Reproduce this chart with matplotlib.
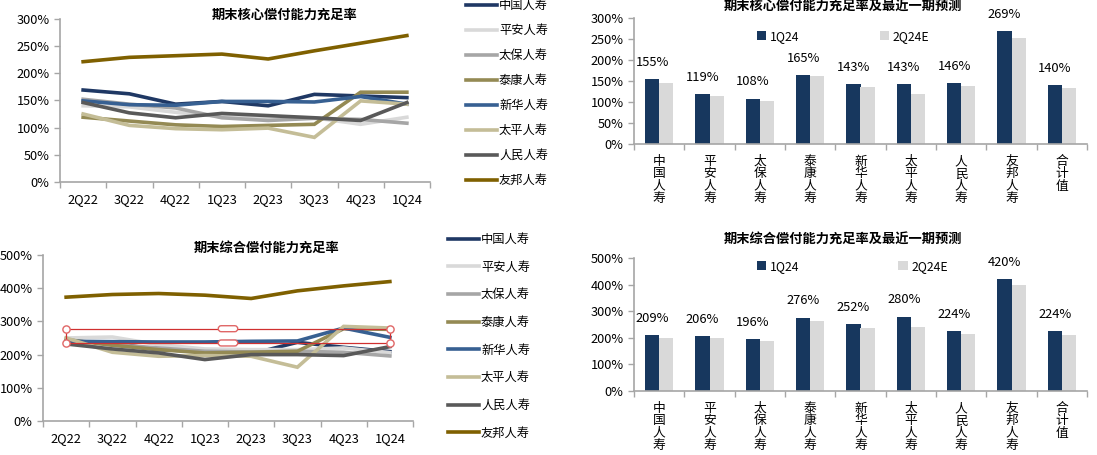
import numpy as np
import matplotlib
matplotlib.use('Agg')
import matplotlib.pyplot as plt
from matplotlib.patches import Rectangle, FancyBboxPatch

plt.rcParams['font.family'] = ['Noto Sans CJK SC', 'DejaVu Sans']
plt.rcParams['font.size'] = 9

quarters = ['2Q22', '3Q22', '4Q22', '1Q23', '2Q23', '3Q23', '4Q23', '1Q24']
companies = ['中国人寿', '平安人寿', '太保人寿', '泰康人寿', '新华人寿', '太平人寿', '人民人寿', '友邦人寿']
line_colors = ['#1F3864', '#D9D9D9', '#A6A6A6', '#948A54', '#376092', '#C4BD97', '#595959', '#7F6000']

# core solvency ratio by quarter (%)
core = {
    '中国人寿': [169, 162, 143, 148, 140, 161, 158, 155],
    '平安人寿': [140, 138, 128, 120, 117, 118, 106, 119],
    '太保人寿': [152, 143, 136, 118, 113, 117, 115, 108],
    '泰康人寿': [119, 112, 105, 102, 104, 106, 165, 165],
    '新华人寿': [149, 142, 141, 148, 148, 147, 157, 143],
    '太平人寿': [125, 104, 98, 96, 99, 82, 149, 143],
    '人民人寿': [146, 127, 118, 126, 122, 118, 113, 146],
    '友邦人寿': [221, 229, 232, 235, 226, 241, 255, 269],
}

# comprehensive solvency ratio by quarter (%)
comp = {
    '中国人寿': [240, 234, 215, 210, 202, 237, 222, 209],
    '平安人寿': [250, 253, 230, 217, 215, 215, 220, 206],
    '太保人寿': [245, 230, 220, 210, 208, 210, 207, 196],
    '泰康人寿': [245, 228, 215, 205, 207, 210, 278, 276],
    '新华人寿': [240, 239, 238, 238, 240, 241, 280, 252],
    '太平人寿': [250, 207, 195, 197, 195, 162, 285, 280],
    '人民人寿': [232, 217, 205, 185, 200, 200, 197, 224],
    '友邦人寿': [373, 381, 384, 379, 369, 392, 407, 420],
}

bar_cats = ['中国人寿', '平安人寿', '太保人寿', '泰康人寿', '新华人寿', '太平人寿', '人民人寿', '友邦人寿', '合计值']
core_1q24 = [155, 119, 108, 165, 143, 143, 146, 269, 140]
core_2q24e = [145, 114, 103, 162, 136, 120, 138, 253, 133]
comp_1q24 = [209, 206, 196, 276, 252, 280, 224, 420, 224]
comp_2q24e = [199, 199, 187, 265, 235, 240, 214, 400, 211]

W, H = 1097, 455
fig = plt.figure(figsize=(W / 100, H / 100), dpi=100)


def box(l, t, r, b):
    return [l / W, 1 - b / H, (r - l) / W, (b - t) / H]


def style_axes(ax, n, ymax, step):
    for s in ['top', 'right']:
        ax.spines[s].set_visible(False)
    for s in ['left', 'bottom']:
        ax.spines[s].set_color('#A6A6A6')
        ax.spines[s].set_linewidth(1.2)
    ax.set_xlim(-0.5, n - 0.5)
    ax.set_ylim(0, ymax)
    ax.set_yticks(np.arange(0, ymax + 1, step))
    ax.set_yticklabels(['%d%%' % v for v in np.arange(0, ymax + 1, step)])
    ax.set_xticks(np.arange(-0.5, n, 1.0))
    ax.set_xticklabels([])
    ax.set_xticks(np.arange(n), minor=True)
    ax.tick_params(axis='both', which='major', color='#A6A6A6', length=4, width=1, labelsize=9.2)
    ax.tick_params(axis='x', which='minor', length=0, labelsize=9.2, pad=8)


def line_chart(rect, data, ymax, step, title, title_xy, leg_anchor, leg_space):
    ax = fig.add_axes(rect)
    x = np.arange(len(quarters))
    for name, c in zip(companies, line_colors):
        ax.plot(x, data[name], color=c, lw=2.6, label=name, solid_joinstyle='miter')
    style_axes(ax, len(quarters), ymax, step)
    ax.set_xticklabels(quarters, minor=True)
    fig.text(title_xy[0] / W, 1 - title_xy[1] / H, title, ha='center', va='center',
             fontsize=9.5, fontweight='bold')
    fig.legend(loc='upper left', bbox_to_anchor=(leg_anchor[0] / W, 1 - leg_anchor[1] / H),
               frameon=False, fontsize=8.8, handlelength=2.5, handletextpad=0.2,
               labelspacing=leg_space, borderpad=0, borderaxespad=0,
               handles=ax.get_lines())
    return ax


def bar_chart(rect, v1, v2, ymax, step, title, title_xy, leg_anchor, colspace):
    ax = fig.add_axes(rect)
    x = np.arange(len(bar_cats))
    w = 0.28
    b1 = ax.bar(x - w / 2, v1, w, color='#17375E', label='1Q24')
    b2 = ax.bar(x + w / 2, v2, w, color='#D9D9D9', label='2Q24E')
    for xi, v in zip(x, v1):
        ax.annotate('%d%%' % v, (xi - w / 2, v), xytext=(0, 12), textcoords='offset points',
                    ha='center', va='center', fontsize=9.3)
    style_axes(ax, len(bar_cats), ymax, step)
    ax.set_xticklabels(['\n'.join(c) for c in bar_cats], minor=True, va='top', linespacing=0.93)
    ax.tick_params(axis='x', which='minor', pad=8)
    fig.text(title_xy[0] / W, 1 - title_xy[1] / H, title, ha='center', va='center',
             fontsize=9.5, fontweight='bold')
    ax.legend(handles=[b1, b2], loc='upper left', ncol=2,
              bbox_to_anchor=(leg_anchor[0] / W, 1 - leg_anchor[1] / H),
              bbox_transform=fig.transFigure, frameon=False, fontsize=8.8,
              handlelength=0.75, handleheight=0.75, handletextpad=0.3,
              columnspacing=colspace, borderpad=0, borderaxespad=0)
    return ax


line_chart(box(60, 18.7, 430, 182), core, 300, 50, '期末核心偿付能力充足率',
           (285, 15), (466, -1), 0.98)
ax_bl = line_chart(box(43, 255, 413, 421), comp, 500, 100, '期末综合偿付能力充足率',
                   (267, 248), (448, 233), 1.2)

# red selection outline visible on the comprehensive chart
red = '#E06666'
ax_bl.add_patch(Rectangle((0, 235), 7, 43, fill=False, ec='#D03030', lw=0.9, zorder=5))
for yy in (235, 278):
    for xx in (0, 7):
        ax_bl.plot(xx, yy, 'o', ms=5.2, mfc='white', mec=red, mew=1.0, zorder=6)
    ax_bl.add_patch(FancyBboxPatch((3.29, yy - 9), 0.42, 18,
                                   boxstyle='round,pad=0,rounding_size=0.065',
                                   fc='white', ec=red, lw=1.0, zorder=6, mutation_aspect=139))

bar_chart(box(634, 18, 1087, 144), core_1q24, core_2q24e, 300, 50,
          '期末核心偿付能力充足率及最近一期预测', (843, 7), (757, 30), 6.6)
bar_chart(box(634, 258, 1087, 391), comp_1q24, comp_2q24e, 500, 100,
          '期末综合偿付能力充足率及最近一期预测', (843, 240), (757, 260), 8.1)

fig.savefig('out.png', dpi=100)
